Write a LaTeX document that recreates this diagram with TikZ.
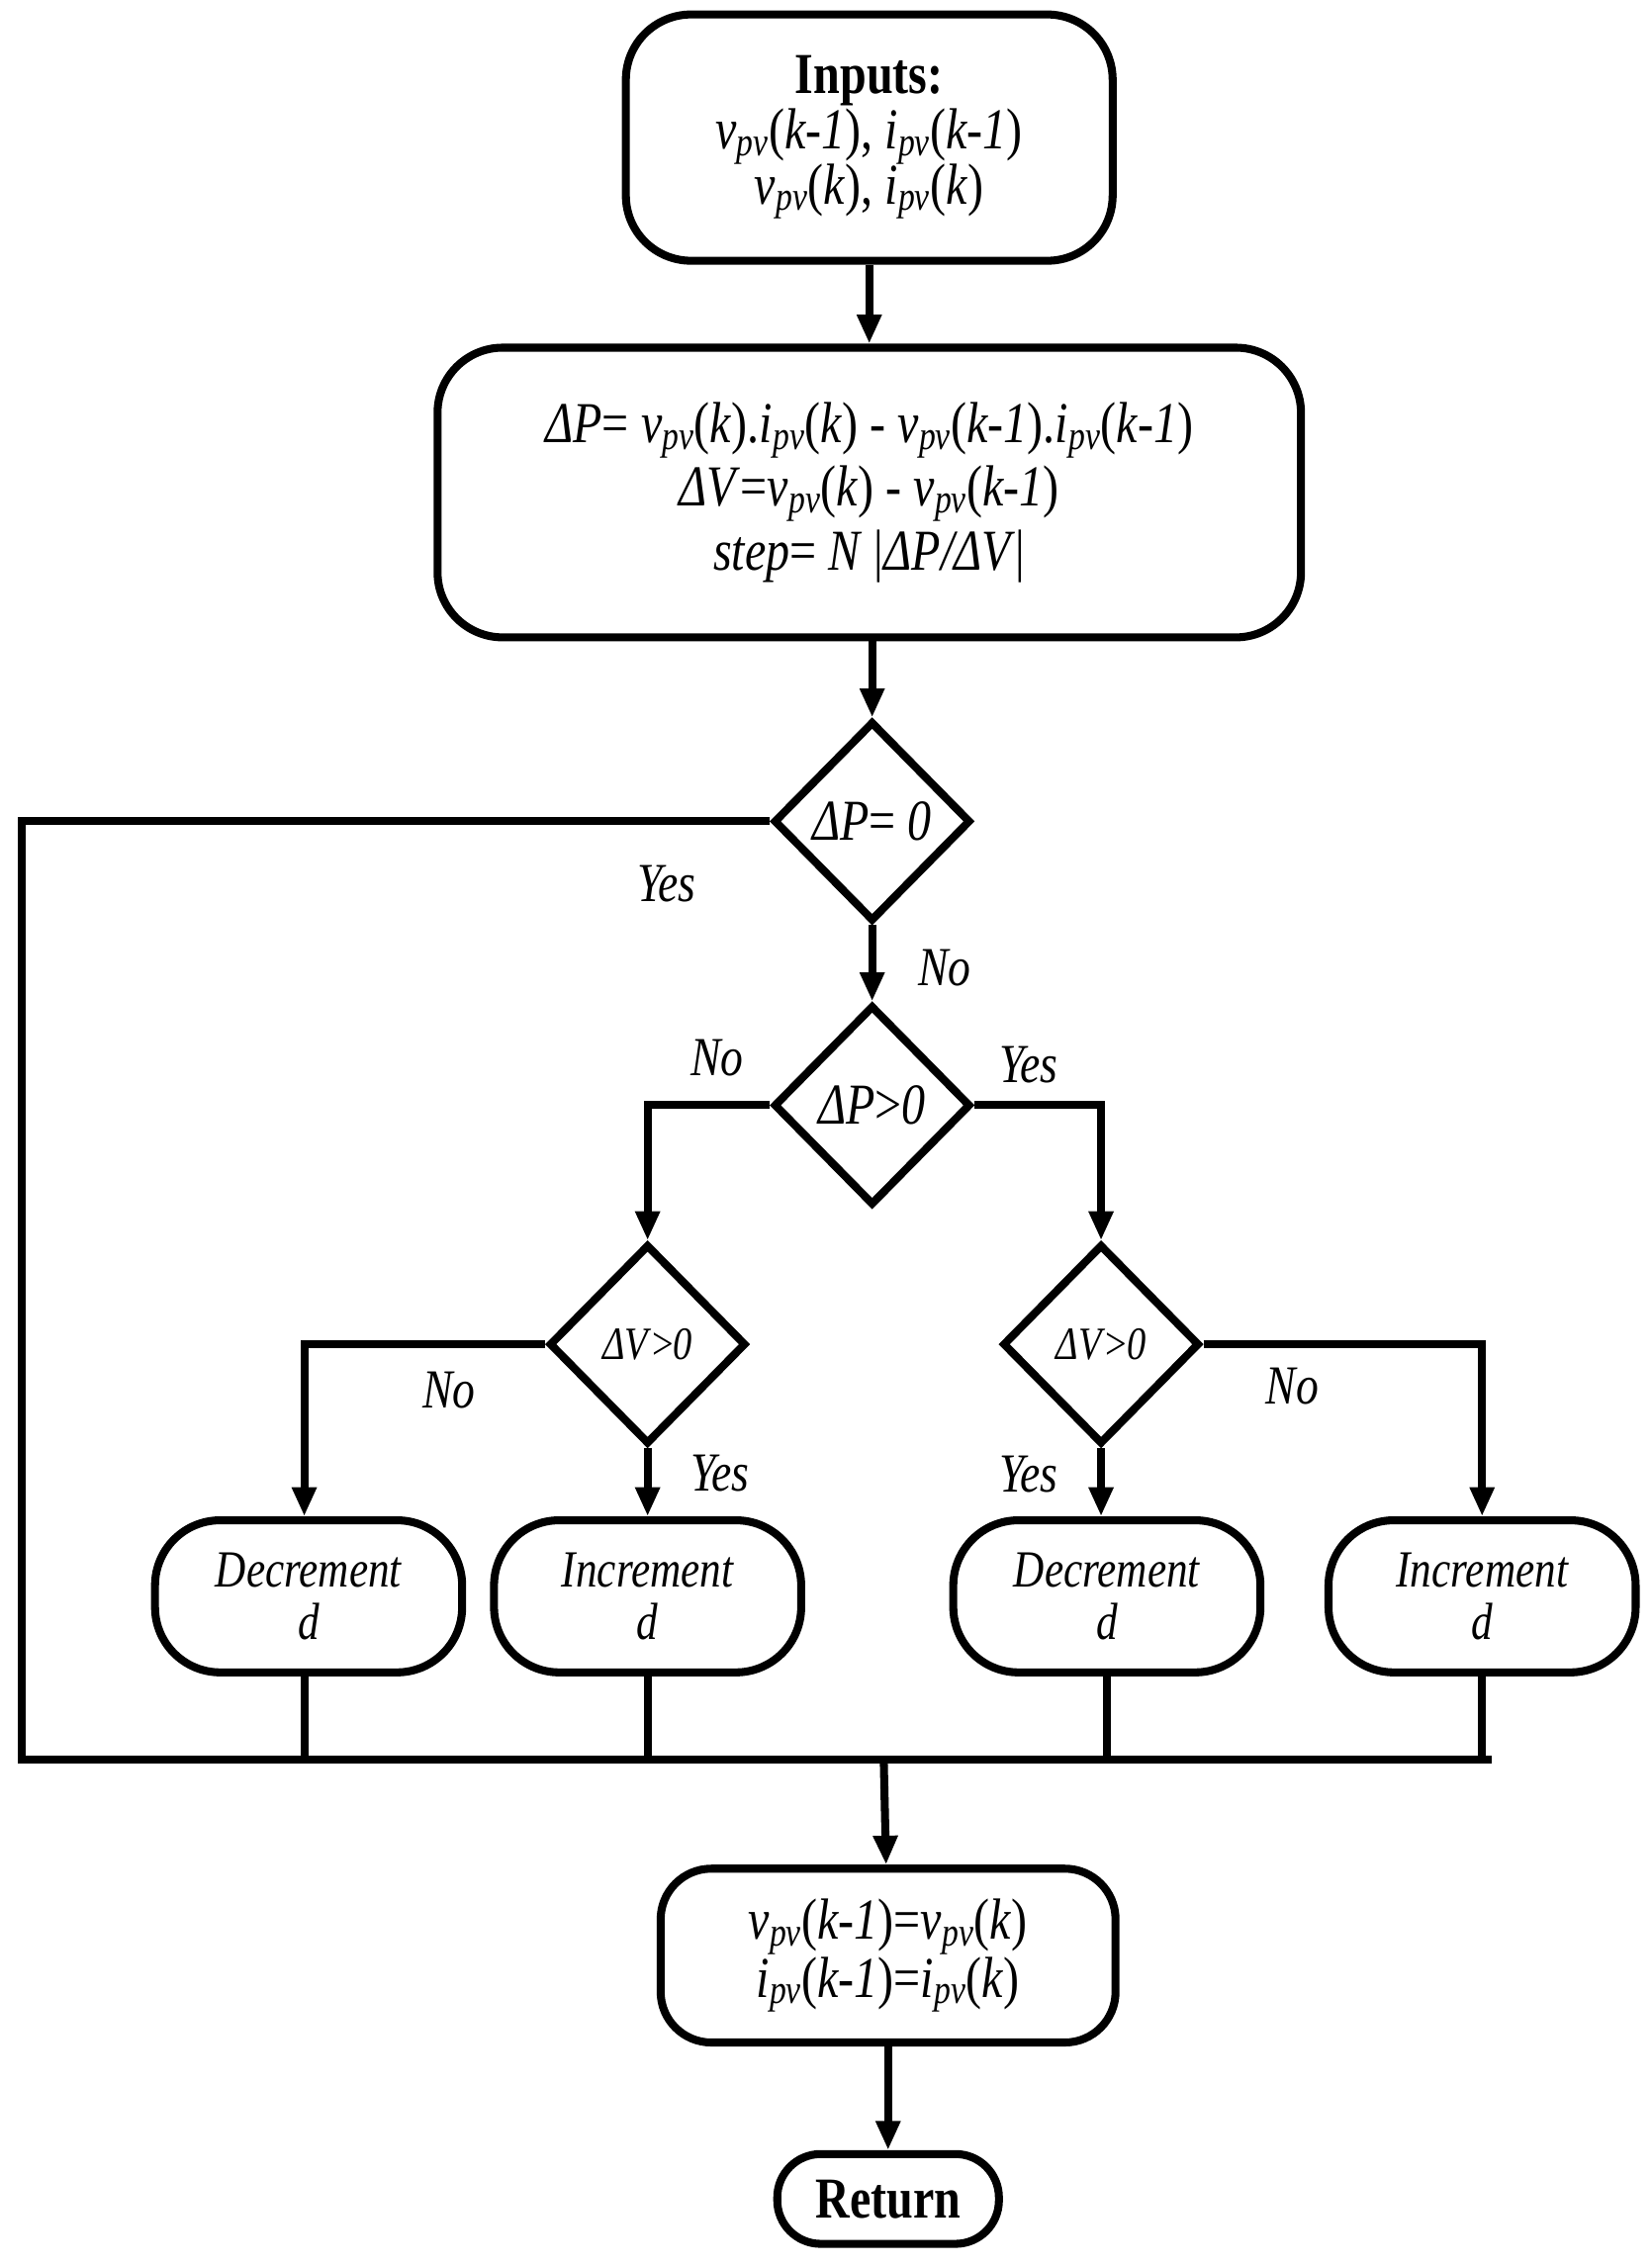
\documentclass[tikz,border=0pt]{standalone}
\usepackage{fontspec}
\setmainfont{Liberation Serif}[FakeStretch=0.82]
\usetikzlibrary{shapes.geometric,arrows.meta}
\newcommand{\vp}[1]{\textit{v}\textsubscript{\textit{pv}}(\textit{#1})}
\newcommand{\ip}[1]{\textit{i}\textsubscript{\textit{pv}}(\textit{#1})}
\begin{document}
\begin{tikzpicture}[x=1pt,y=-1pt,
  every node/.style={font=\fontsize{40}{42}\selectfont},
  line/.style={line width=5.5pt},
  arr/.style={line width=5.5pt,-{Triangle[length=20pt,width=16pt]}},
  rbox/.style={draw,line width=5.5pt,rounded corners=45pt,align=center,inner sep=0pt},
  dia/.style={draw,line width=5.5pt,diamond,inner sep=0pt,minimum width=136pt,minimum height=138pt},
  lab/.style={font=\fontsize{38}{40}\selectfont\itshape}]
\useasboundingbox (0,0) rectangle (1140,1565);
\node[rbox,minimum width=336pt,minimum height=170pt] (in) at (600,95)
  {\textbf{Inputs:}\\[-4pt] \vp{k-1}, \ip{k-1}\\[-4pt] \vp{k}, \ip{k}};
\node[rbox,minimum width=596pt,minimum height=200pt] (calc) at (600,340)
  {\textit{ΔP}= \vp{k}.\ip{k} - \vp{k-1}.\ip{k-1}\\[2pt]
   \textit{ΔV}=\vp{k} - \vp{k-1}\\[2pt]
   \textit{step}= \textit{N} |\textit{ΔP/ΔV}|};
\node[dia] (d1) at (602,567) {\textit{ΔP}= \textit{0}};
\node[dia] (d2) at (602,763) {\textit{ΔP}>\textit{0}};
\node[dia,font=\fontsize{32}{34}\selectfont] (d3) at (447,928) {\textit{ΔV}>\textit{0}};
\node[dia,font=\fontsize{32}{34}\selectfont] (d4) at (760,928) {\textit{ΔV}>\textit{0}};
\tikzset{small/.style={rbox,minimum width=212pt,minimum height=105pt,font=\fontsize{36}{36}\selectfont\itshape}}
\node[small] (b1) at (213,1102) {Decrement\\d};
\node[small] (b2) at (447,1102) {Increment\\d};
\node[small] (b3) at (764,1102) {Decrement\\d};
\node[small] (b4) at (1023,1102) {Increment\\d};
\node[rbox,minimum width=314pt,minimum height=120pt,rounded corners=35pt] (up) at (613,1350)
  {\vp{k-1}=\vp{k}\\[-2pt] \ip{k-1}=\ip{k}};
\node[rbox,minimum width=153pt,minimum height=62pt,rounded corners=30pt,font=\fontsize{40}{42}\selectfont\bfseries] (ret) at (613,1518) {Return};
\coordinate (m) at (610,1215);
\draw[arr] (in) -- (calc);
\draw[arr] (calc.south -| d1) -- (d1);
\draw[arr] (d1) -- (d2);
\draw[arr] (d2.west) -| (d3.north);
\draw[arr] (d2.east) -| (d4.north);
\draw[arr] (d3.west) -| (b1.north -| 210,0);
\draw[arr] (d3) -- (b2);
\draw[arr] (d4.south) -- (b3.north -| d4);
\draw[arr] (d4.east) -| (b4.north);
\draw[line] (d1.west) -| (15,1215) -- (1030,1215);
\draw[line] (b1.south -| 210,0) -- (210,1215);
\draw[line] (b2.south) -- (b2.south |- m);
\draw[line] (b3.south) -- (b3.south |- m);
\draw[line] (b4.south) -- (b4.south |- m);
\draw[arr] (m) -- (up);
\draw[arr] (up) -- (ret);
\node[lab] at (460,610) {Yes};
\node[lab] at (652,668) {No};
\node[lab] at (495,730) {No};
\node[lab] at (710,735) {Yes};
\node[lab] at (310,960) {No};
\node[lab] at (497,1017) {Yes};
\node[lab] at (710,1018) {Yes};
\node[lab] at (892,957) {No};
\end{tikzpicture}
\end{document}
